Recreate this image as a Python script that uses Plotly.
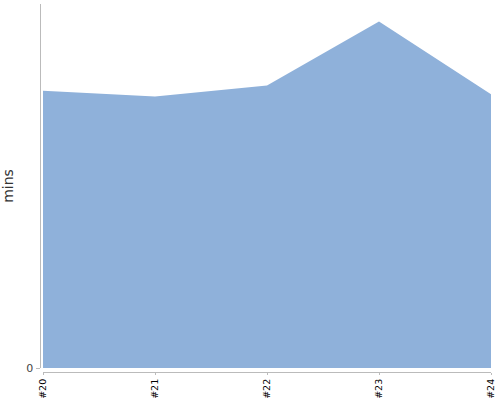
import plotly.graph_objects as go

categories = ["#20", "#21", "#22", "#23", "#24"]
mins = [38.1, 37.3, 38.8, 47.6, 37.6]
y_ticks = [0]
y_tick_labels = ["0"]

fig = go.Figure()
fig.add_trace(go.Scatter(
    x=categories, y=mins, mode="lines", fill="tozeroy",
    line=dict(width=0, color="rgb(143,177,218)"),
    fillcolor="rgb(143,177,218)", hoverinfo="skip", showlegend=False,
))

fig.update_layout(
    width=500, height=400,
    margin=dict(l=0, r=0, t=0, b=0, autoexpand=False),
    paper_bgcolor="white", plot_bgcolor="white",
    font=dict(family="DejaVu Sans, sans-serif"),
    xaxis=dict(
        type="category", domain=[0.086, 0.982], range=[0, 4],
        anchor="free", position=0.07, automargin=False,
        showline=True, linecolor="#bbbbbb", linewidth=1,
        ticks="outside", ticklen=2, tickcolor="#bbbbbb",
        tickangle=-90, tickfont=dict(size=9.5, color="#000000"),
        showgrid=False, zeroline=False,
    ),
    yaxis=dict(
        domain=[0.08, 0.99], range=[0, 50],
        anchor="free", position=0.079, automargin=False,
        showline=True, linecolor="#bbbbbb", linewidth=1,
        tickmode="array", tickvals=y_ticks, ticktext=y_tick_labels,
        ticks="outside", ticklen=4, tickcolor="#bbbbbb",
        tickfont=dict(size=11, color="#444444"),
        showgrid=False, zeroline=False,
        title=dict(text="mins", font=dict(size=14, color="#333333"), standoff=10),
    ),
)

fig.write_html("out.html", config={"displayModeBar": False},
               post_script="document.body.style.margin='0';")
